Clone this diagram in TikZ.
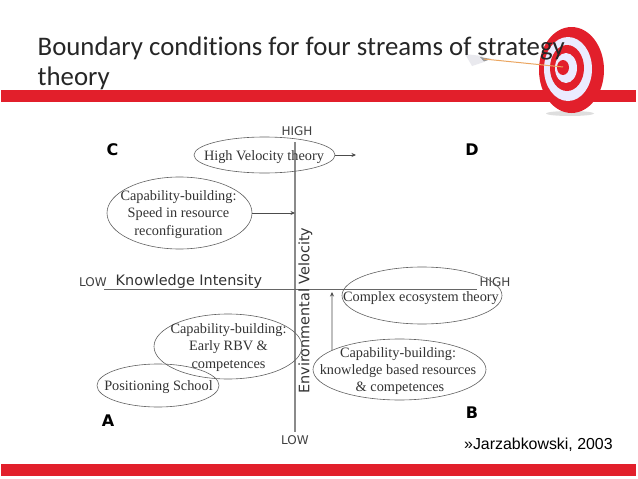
\documentclass[tikz,border=0pt]{standalone}
\usepackage{fontspec}
\setmainfont{Liberation Serif}
\newfontfamily\titlefont[Ligatures=NoCommon]{Carlito}
\newfontfamily\axisfont{DejaVu Sans}
\newfontfamily\arialfont{Liberation Sans}
\usetikzlibrary{shapes.geometric,arrows.meta}
\definecolor{barred}{HTML}{E21F2B}
\definecolor{ink}{HTML}{333333}
\definecolor{axisgray}{HTML}{8A8A8A}
\tikzset{
  oval/.style={ellipse,draw=black!62,line width=0.6pt,inner sep=0pt},
  ovaltext/.style={align=center,text=ink,font=\fontsize{14.3}{17.2}\selectfont,inner sep=0pt},
  axislabel/.style={text=black!75,font=\axisfont\fontsize{12}{14}\selectfont,inner sep=0pt},
  axisname/.style={text=black!80,font=\axisfont\fontsize{14.4}{17}\selectfont,inner sep=0pt},
  quadrant/.style={text=black,font=\axisfont\bfseries\fontsize{16}{18}\selectfont,inner sep=0pt},
  conn/.style={draw=black!70,line width=0.8pt,-{Stealth[length=4.5pt,width=4pt]}},
  bar/.style={fill=barred,draw=none},
  titletext/.style={anchor=base west,inner sep=0pt,text=black!85,font=\titlefont\fontsize{26.8}{31}\selectfont}
}
\begin{document}
\begin{tikzpicture}[x=1pt,y=-1pt]
\useasboundingbox (0,0) rectangle (638,479);
\fill[white] (0,0) rectangle (638,479);
% bars
\path[bar] (1,89.5) rectangle (636,102);
\path[bar] (1,464) rectangle (636,476);
% target
\fill[black!25,opacity=.5] (570,113.5) ellipse (24 and 2.5);
\fill[barred] (571.5,70) ellipse (32.5 and 43);
\fill[white!92!blue] (568,69) ellipse (24 and 32);
\fill[barred] (567,68) ellipse (17 and 23);
\fill[white!92!blue] (566,68) ellipse (11 and 15);
\fill[barred] (563,67.5) ellipse (6 and 7.5);
% arrow in target
\fill[blue!25!black!12,opacity=.7] (465,54) -- (482,56) -- (484,62) -- (472,66) -- cycle;
\fill[black!40] (480,57) -- (491,59) -- (484,61.5) -- cycle;
\draw[draw=orange!55!brown!70,line width=1pt] (484,59) -- (563,67);
% title
\node[titletext] (titleA) at (37.5,55) {Boundary conditions for four streams of strategy};
\node[titletext] (titleB) at (37.5,85.5) {theory};
% axes
\coordinate (vtop) at (295,142);
\coordinate (vbot) at (295,432);
\coordinate (hleft) at (104,289);
\coordinate (hright) at (477,289);
\draw[axisgray,line width=1.5pt] (vtop) -- (vbot);
\draw[black!60,line width=0.9pt] (hleft) -- (hright);
\node[axislabel] (hi1) at (297,131) {HIGH};
\node[axislabel] (lo1) at (295,440) {LOW};
\node[axislabel] (lo2) at (93,282) {LOW};
\node[axislabel] (hi2) at (495,282) {HIGH};
\node[axisname,anchor=base west] (ki) at (115.5,285) {Knowledge Intensity};
\node[axisname,rotate=90] (ev) at (305.5,310.5) {Environmental Velocity};
% quadrant letters
\node[quadrant] (qc) at (112.5,149.5) {C};
\node[quadrant] (qd) at (472,149.5) {D};
\node[quadrant] (qa) at (108,421) {A};
\node[quadrant] (qb) at (472,413) {B};
% ellipses
\node[oval,minimum width=141pt,minimum height=36pt] (hv) at (264.5,155) {};
\node[oval,minimum width=145pt,minimum height=72pt] (sp) at (179.5,213) {};
\node[oval,minimum width=148pt,minimum height=65pt] (rbv) at (228,346.5) {};
\node[oval,minimum width=122pt,minimum height=43pt] (ps) at (158,385.5) {};
\node[oval,minimum width=160pt,minimum height=57pt] (ce) at (422,295.5) {};
\node[oval,minimum width=173pt,minimum height=61pt] (kb) at (399.5,369.5) {};
% texts
\node[ovaltext] (hvt) at (264,157.5) {High Velocity theory};
\node[ovaltext] (spt) at (178.5,214.5) {Capability-building:\\Speed in resource\\reconfiguration};
\node[ovaltext] (rbvt) at (228.5,347.5) {Capability-building:\\Early RBV \&\\competences};
\node[ovaltext] (pst) at (158.5,387.5) {Positioning School};
\node[ovaltext] (cet) at (421,298) {Complex ecosystem theory};
\node[ovaltext] (kbt) at (398,371) {Capability-building:\\knowledge based resources\\\hspace*{4pt}\& competences};
% connectors
\coordinate (hvend) at (356,155);
\coordinate (upend) at (332,292);
\draw[conn] (hv.east) -- (hvend);
\draw[conn] (sp.east) -- (sp.east -| vtop);
\draw[conn] (kb.164.3) -- (upend);
% citation
\node[anchor=base west,inner sep=0pt,text=black,font=\arialfont\fontsize{15.9}{18}\selectfont] (cite) at (464,449.5) {»Jarzabkowski, 2003};
\end{tikzpicture}
\end{document}
